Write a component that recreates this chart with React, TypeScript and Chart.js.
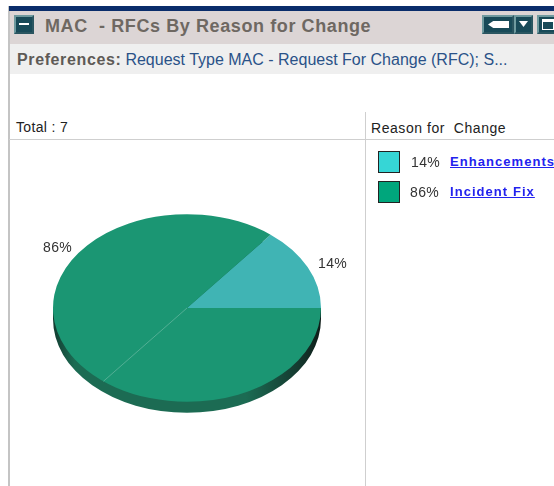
import React, { useEffect, useRef } from "react";
import { Chart, registerables } from "chart.js";

Chart.register(...registerables);

const titleText = "MAC  - RFCs By Reason for Change";
const prefLabel = "Preferences:";
const prefValue = "Request Type MAC - Request For Change (RFC); S...";
const totalText = "Total : 7";
const legendTitle = "Reason for  Change";
const categories = ["Enhancements", "Incident Fix"];
const counts = [1, 6];
const percents = ["14%", "86%"];
const sliceColors = ["#40b4b4", "#1b9673"];
const swatchColors = ["#36d6d6", "#00a67c"];
const FLAT = 0.7;
const DEPTH = 11;

const tiltPlugin = {
  id: "tilt",
  beforeDatasetsDraw(chart: any) {
    const arc = chart.getDatasetMeta(0).data[0];
    const { x, y, outerRadius: r } = arc;
    const ctx = chart.ctx;
    const g = ctx.createLinearGradient(x - r, 0, x + r, 0);
    g.addColorStop(0, "#123c30");
    g.addColorStop(0.08, "#1c6b53");
    g.addColorStop(0.72, "#1c6b53");
    g.addColorStop(0.92, "#14382e");
    g.addColorStop(1, "#0e1c18");
    ctx.save();
    ctx.fillStyle = g;
    ctx.beginPath();
    ctx.ellipse(x, y + DEPTH, r, r * FLAT, 0, 0, Math.PI * 2);
    ctx.rect(x - r, y, 2 * r, DEPTH);
    ctx.fill();
    ctx.restore();
    ctx.save();
    ctx.translate(x, y);
    ctx.scale(1, FLAT);
    ctx.translate(-x, -y);
  },
  afterDatasetsDraw(chart: any) {
    const ctx = chart.ctx;
    const arc = chart.getDatasetMeta(0).data[0];
    const { x, y, outerRadius: r, startAngle } = arc;
    const a = startAngle + Math.PI;
    ctx.strokeStyle = "rgba(120,190,170,0.7)";
    ctx.lineWidth = 1;
    ctx.beginPath();
    ctx.moveTo(x, y);
    ctx.lineTo(x + r * Math.cos(a), y + r * Math.sin(a));
    ctx.stroke();
    ctx.restore();
  },
};

const abs = (left: number, top: number, extra: React.CSSProperties = {}): React.CSSProperties => ({
  position: "absolute",
  left,
  top,
  whiteSpace: "pre",
  ...extra,
});

const btn = (left: number, width: number): React.CSSProperties =>
  abs(left, 15, { width, height: 19, background: "#184a58", border: "2px solid #6f9a9f", borderRightColor: "#2a5560", borderBottomColor: "#2a5560", boxSizing: "border-box" });

export default function App() {
  const ref = useRef<HTMLCanvasElement>(null);
  useEffect(() => {
    const chart = new Chart(ref.current as HTMLCanvasElement, {
      type: "pie",
      data: {
        labels: categories,
        datasets: [{ data: counts, backgroundColor: sliceColors, borderWidth: 0 }],
      },
      options: {
        responsive: false,
        animation: false,
        rotation: 38.6,
        layout: { padding: { left: 43, right: 44, top: 33, bottom: 44 } },
        plugins: { legend: { display: false }, tooltip: { enabled: false } },
      },
      plugins: [tiltPlugin],
    } as any);
    return () => chart.destroy();
  }, []);

  const font = '"Liberation Sans", Arial, sans-serif';
  return (
    <div style={{ position: "fixed", left: 0, top: 0, width: 554, height: 486, overflow: "hidden", background: "#fff", fontFamily: font, filter: "blur(0.45px)" }}>
      <div style={abs(8, 6, { width: 2, height: 480, background: "#c4c4c4" })} />
      <div style={abs(9, 6, { width: 545, height: 5, background: "#0a2d6b" })} />
      <div style={abs(10, 11, { width: 544, height: 33, background: "#dcd5d5" })} />
      <div style={abs(10, 44, { width: 544, height: 30, background: "#efefef" })} />

      <div style={btn(14, 20)}>
        <div style={abs(3, 6, { width: 10, height: 2, background: "#fff" })} />
      </div>
      <div style={abs(45, 15, { fontSize: 18, fontWeight: 700, color: "#6e6862", letterSpacing: 0.6, lineHeight: "22px" })}>{titleText}</div>

      <div style={btn(482, 32)}>
        <div style={abs(4, 4, { width: 21, height: 7, background: "#fff", clipPath: "polygon(0 50%, 25% 0, 100% 0, 100% 100%, 25% 100%)" })} />
      </div>
      <div style={btn(514, 19)}>
        <div style={abs(3, 4, { width: 9, height: 6, background: "#fff", clipPath: "polygon(0 0, 100% 0, 50% 100%)" })} />
      </div>
      <div style={btn(537, 22)}>
        <div style={abs(3, 2, { width: 12, height: 11, border: "1px solid #fff", borderTopWidth: 3, boxSizing: "border-box" })} />
      </div>

      <div style={abs(17, 51, { fontSize: 16, lineHeight: "18px", color: "#2a5288" })}>
        <span style={{ fontWeight: 700, color: "#5e5a56", letterSpacing: 0.62 }}>{prefLabel}</span>
        <span style={{ marginLeft: 4 }}>{prefValue}</span>
      </div>

      <div style={abs(16, 119, { fontSize: 14, lineHeight: "16px", color: "#222", letterSpacing: 0.35 })}>{totalText}</div>
      <div style={abs(371, 120, { fontSize: 14, lineHeight: "16px", color: "#222", letterSpacing: 0.55 })}>{legendTitle}</div>

      <div style={abs(365, 112, { width: 1, height: 374, background: "#cfcfcf" })} />
      <div style={abs(9, 139, { width: 545, height: 1, background: "#cfcfcf" })} />

      <canvas ref={ref} width={355} height={345} style={{ position: "absolute", left: 10, top: 141, width: 355, height: 345 }} />

      <div style={abs(43, 239, { fontSize: 14, lineHeight: "16px", color: "#333", letterSpacing: 0.4 })}>{percents[1]}</div>
      <div style={abs(318, 255, { fontSize: 14, lineHeight: "16px", color: "#333", letterSpacing: 0.4 })}>{percents[0]}</div>

      {categories.map((c, i) => (
        <React.Fragment key={c}>
          <div style={abs(378, 151 + i * 30, { width: 22, height: 22, background: swatchColors[i], border: "1px solid #222", boxSizing: "border-box" })} />
          <div style={abs(i === 0 ? 411 : 410, 154 + i * 30, { fontSize: 14, lineHeight: "16px", color: "#333", letterSpacing: 0.4 })}>{percents[i]}</div>
          <div style={abs(450, 154 + i * 30, { fontSize: 13, lineHeight: "16px", color: "#2222ee", letterSpacing: 1.05, fontWeight: 700, textDecoration: "underline" })}>{c}</div>
        </React.Fragment>
      ))}
    </div>
  );
}
